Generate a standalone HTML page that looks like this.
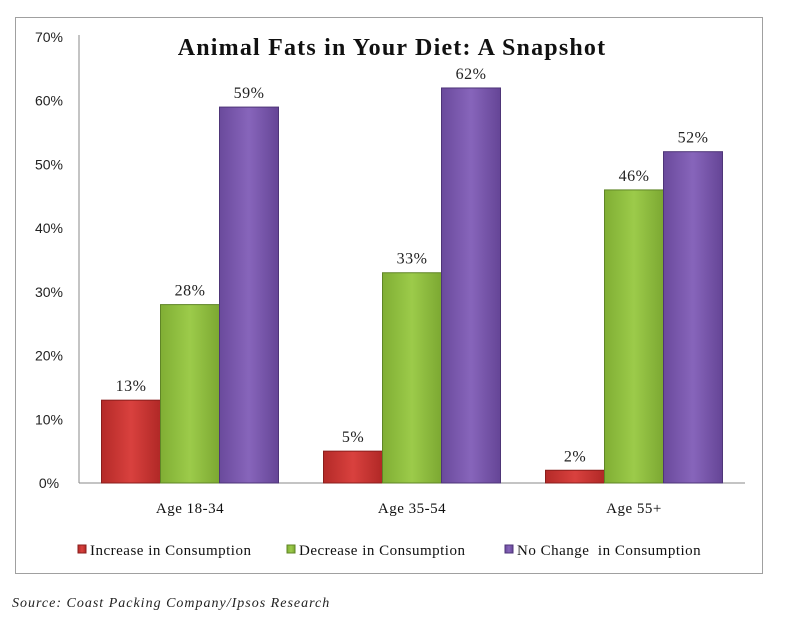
<!DOCTYPE html>
<html><head><meta charset="utf-8"><style>
body{margin:0;background:#fff;}
svg text{font-family:"Liberation Serif",serif;}
svg text.sans{font-family:"Liberation Sans",sans-serif;}
</style></head><body>
<svg width="792" height="619" xmlns="http://www.w3.org/2000/svg">
<defs>
<linearGradient id="gr" x1="0" x2="1"><stop offset="0" stop-color="#b42a28"/><stop offset="0.5" stop-color="#d9413e"/><stop offset="1" stop-color="#b02826"/></linearGradient>
<linearGradient id="gg" x1="0" x2="1"><stop offset="0" stop-color="#80ae34"/><stop offset="0.5" stop-color="#9ccb4a"/><stop offset="1" stop-color="#7ca832"/></linearGradient>
<linearGradient id="gp" x1="0" x2="1"><stop offset="0" stop-color="#6a4a9c"/><stop offset="0.5" stop-color="#8765bb"/><stop offset="1" stop-color="#654596"/></linearGradient>
</defs>
<rect x="15.5" y="17.5" width="747" height="556" fill="#fff" stroke="#a0a0a0"/>
<text x="392" y="55" text-anchor="middle" font-size="24" font-weight="bold" letter-spacing="1.2" fill="#111">Animal Fats in Your Diet: A Snapshot</text>
<g id="axes"></g>
<g id="bars"></g>
<g id="legend"></g>
<text x="12" y="607" font-size="14" font-style="italic" letter-spacing="1" fill="#222">Source: Coast Packing Company/Ipsos Research</text>
</svg>
<script>
const categories=["Age 18-34","Age 35-54","Age 55+"];
const increase=[13,5,2];
const decrease=[28,33,46];
const noChange=[59,62,52];
const yTicks=[0,10,20,30,40,50,60,70];
const seriesNames=["Increase in Consumption","Decrease in Consumption","No Change  in Consumption"];
const NS="http://www.w3.org/2000/svg";
const X0=79,X1=745,Y0=483,Y70=37;
function y(v){return Y0-(v/70)*(Y0-Y70);}
function groupX(i){return X0+(X1-X0)/categories.length*(i+0.5);}
function mk(t,a,p){const e=document.createElementNS(NS,t);for(const k in a)e.setAttribute(k,a[k]);p.appendChild(e);return e;}
const ax=document.getElementById('axes');
let l=mk('line',{x1:X0,x2:X0,y1:Y70-2,y2:Y0,stroke:'#888'},ax);


l=mk('line',{x1:X0,x2:X1,y1:Y0,y2:Y0,stroke:'#888'},ax);


yTicks.forEach(v=>{const t=mk('text',{x:49,y:y(v)+5,'text-anchor':'middle','font-size':14,fill:'#222','class':'sans'},ax);t.textContent=v+'%';

});
categories.forEach((c,i)=>{const t=mk('text',{x:groupX(i),y:513,'text-anchor':'middle','font-size':15,'letter-spacing':0.5,fill:'#111'},ax);t.textContent=c;

});
const series=[increase,decrease,noChange],fills=['url(#gr)','url(#gg)','url(#gp)'],strokes=['#8a1e1c','#5f8526','#4e3578'];
const bw=59;
const bg=document.getElementById('bars');
categories.forEach((c,i)=>{series.forEach((s,j)=>{const x=groupX(i)-1.5*bw+j*bw;const v=s[i];
const r=mk('rect',{x:x,y:y(v),width:bw,height:Y0-y(v),fill:fills[j],stroke:strokes[j],'stroke-width':1},bg);


const t=mk('text',{x:x+bw/2,y:y(v)-9,'text-anchor':'middle','font-size':16,'letter-spacing':0.5,fill:'#222'},bg);t.textContent=v+'%';

});});
const lg=document.getElementById('legend');
const lx=[78,287,505];
seriesNames.forEach((n,j)=>{const r=mk('rect',{x:lx[j],y:545,width:8,height:8,fill:fills[j],stroke:strokes[j]},lg);


const t=mk('text',{x:lx[j]+12,y:555,'font-size':15,'letter-spacing':0.5,fill:'#111'},lg);t.textContent=n;t.setAttribute('xml:space','preserve');t.style.whiteSpace='pre';

});
</script>
</body></html>
